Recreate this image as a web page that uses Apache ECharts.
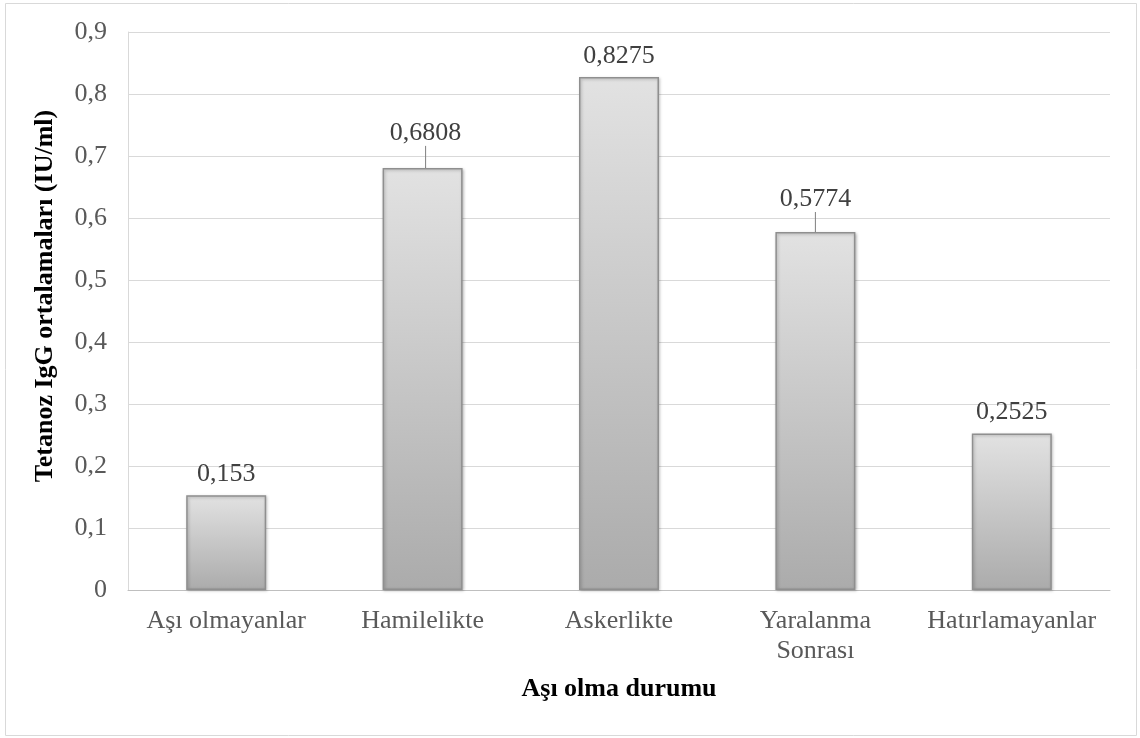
<!DOCTYPE html>
<html>
<head>
<meta charset="utf-8">
<script src="https://cdn.jsdelivr.net/npm/echarts@6/dist/echarts.min.js"></script>
<style>
  html, body { margin: 0; padding: 0; background: #fff; }
  #chart { width: 1140px; height: 738px; }
</style>
</head>
<body>
<div id="chart"></div>
<script>
const categories = ["Aşı olmayanlar", "Hamilelikte", "Askerlikte", "Yaralanma\nSonrası", "Hatırlamayanlar"];
const values = [0.153, 0.6808, 0.8275, 0.5774, 0.2525];
const valueLabels = ["0,153", "0,6808", "0,8275", "0,5774", "0,2525"];
// label shifts where the original has a leader line
const labelShift = [[0, 0], [3, -14], [0, 0], [0, -12], [0, 0]];
const hasLeader = [false, true, false, true, false];

const font = "'Liberation Serif', 'Times New Roman', serif";

const chart = echarts.init(document.getElementById("chart"));
chart.setOption({
  animation: false,
  textStyle: { fontFamily: font },
  graphic: [{
    type: "rect",
    shape: { x: 5.5, y: 3.5, width: 1131, height: 732 },
    style: { fill: "none", stroke: "#d9d9d9", lineWidth: 1 },
    silent: true
  }],
  grid: { left: 128, right: 30, top: 32, bottom: 148 },
  xAxis: {
    type: "category",
    data: categories,
    name: "Aşı olma durumu",
    nameLocation: "middle",
    nameGap: 86,
    nameTextStyle: { fontFamily: font, fontSize: 26, fontWeight: "bold", color: "#000" },
    axisLine: { lineStyle: { color: "#bfbfbf", width: 1 } },
    axisTick: { show: false },
    axisLabel: { fontFamily: font, fontSize: 26, color: "#595959", margin: 16, lineHeight: 30, interval: 0 }
  },
  yAxis: {
    type: "value",
    min: 0,
    max: 0.9,
    interval: 0.1,
    name: "Tetanoz IgG ortalamaları (IU/ml)",
    nameLocation: "middle",
    nameGap: 70,
    nameTextStyle: { fontFamily: font, fontSize: 26, fontWeight: "bold", color: "#000", padding: [0, 0, 0, 30] },
    axisLine: { show: true, lineStyle: { color: "#d9d9d9" } },
    axisTick: { show: false },
    splitLine: { lineStyle: { color: "#d9d9d9" } },
    axisLabel: {
      fontFamily: font, fontSize: 26, color: "#595959", margin: 21,
      formatter: v => (Math.round(v * 10) / 10).toString().replace(".", ",")
    }
  },
  series: [{
    type: "bar",
    barWidth: 80,
    data: values.map((v, i) => ({ value: v, labelLine: { show: hasLeader[i] } })),
    itemStyle: {
      color: new echarts.graphic.LinearGradient(0, 0, 0, 1, [
        { offset: 0, color: "#e2e2e2" },
        { offset: 1, color: "#ababab" }
      ]),
      borderColor: "#8f8f8f",
      borderWidth: 1.5,
      shadowColor: "rgba(0,0,0,0.25)",
      shadowBlur: 3,
      shadowOffsetX: 1,
      shadowOffsetY: 1
    },
    label: {
      show: true,
      position: "top",
      distance: 8,
      fontFamily: font,
      fontSize: 26,
      color: "#404040",
      formatter: p => valueLabels[p.dataIndex]
    },
    labelLine: { show: true, lineStyle: { color: "#7f7f7f", width: 1 } },
    labelLayout: p => ({ dx: labelShift[p.dataIndex][0], dy: labelShift[p.dataIndex][1] })
  }]
});
</script>
</body>
</html>
